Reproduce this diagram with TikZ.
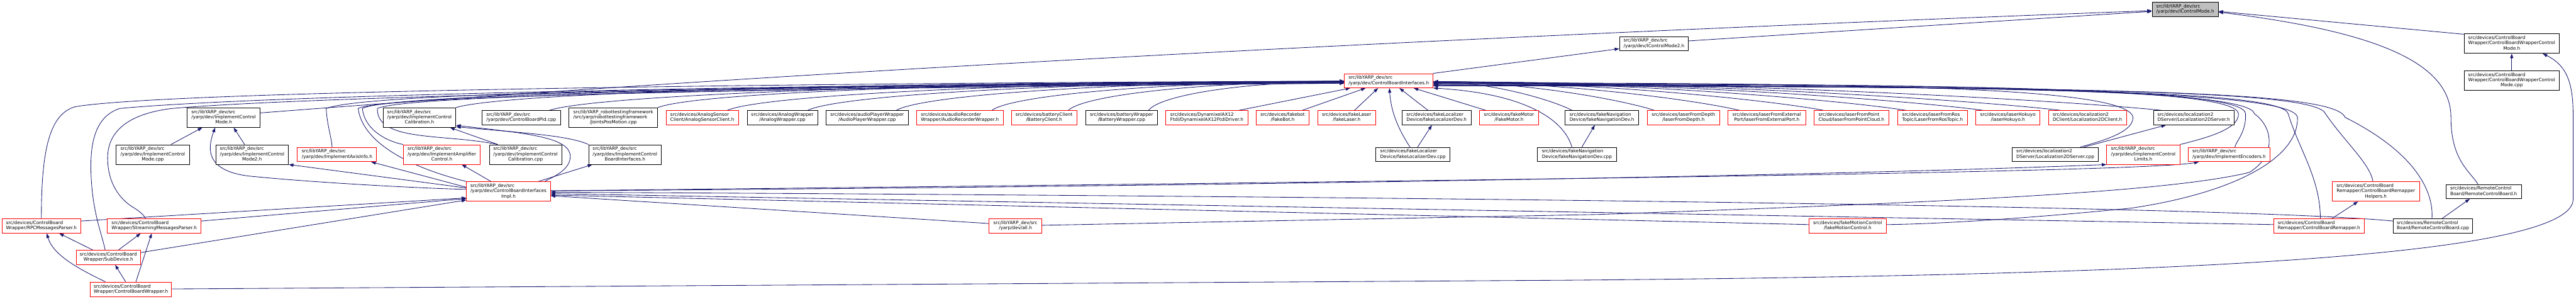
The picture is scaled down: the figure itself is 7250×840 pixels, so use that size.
\documentclass[tikz,border=0pt]{standalone}
\usepackage{fontspec}
\setmainfont{DejaVu Sans}
\usetikzlibrary{arrows.meta}
\definecolor{edgec}{HTML}{191970}
\definecolor{rootfill}{HTML}{BFBFBF}
\newcommand\nfont{\fontsize{12.85}{14.7}\selectfont}
\newcommand\nt[1]{\begin{tabular}{@{}l@{}}#1\end{tabular}}
\newcommand\lcx[1]{\multicolumn{1}{@{}c@{}}{#1}}
\pgfdeclarelayer{bg}
\pgfsetlayers{bg,main}
\begin{document}
\begin{tikzpicture}[x=1pt,y=-1pt,
  nd/.style={draw=black, line width=1.4pt, fill=white, inner sep=0pt, font=\nfont},
  rd/.style={nd, draw=red},
  dep/.style={draw=edgec, line width=1.5pt, arrows={Triangle[length=13pt,width=9pt]-}}]
\useasboundingbox (0,0) rectangle (7250,840);
% ---------- nodes ----------
\node[nd,fill=rootfill,minimum width=186pt,minimum height=40pt] (root) at (6150,26) {\nt{src/libYARP\_dev/src\\\lcx{/yarp/dev/IControlMode.h}}};
\node[nd,minimum width=194pt,minimum height=40pt] (icm2) at (4655,123) {\nt{src/libYARP\_dev/src\\\lcx{/yarp/dev/IControlMode2.h}}};
\node[nd,minimum width=268pt,minimum height=55pt] (cbwcmh) at (7069,122.5) {\nt{src/devices/ControlBoard\\Wrapper/ControlBoardWrapperControl\\\lcx{Mode.h}}};
\node[nd,minimum width=268pt,minimum height=55pt] (cbwcmcpp) at (7069,226.5) {\nt{src/devices/ControlBoard\\Wrapper/ControlBoardWrapperControl\\\lcx{Mode.cpp}}};
\node[rd,minimum width=249pt,minimum height=40pt] (cbi) at (3908.5,227) {\nt{src/libYARP\_dev/src\\\lcx{/yarp/dev/ControlBoardInterfaces.h}}};
% row 4
\node[nd,minimum width=205pt,minimum height=55pt] (icmh) at (629.5,330.5) {\nt{src/libYARP\_dev/src\\/yarp/dev/ImplementControl\\\lcx{Mode.h}}};
\node[nd,minimum width=205pt,minimum height=55pt] (icch) at (1180.5,330.5) {\nt{src/libYARP\_dev/src\\/yarp/dev/ImplementControl\\\lcx{Calibration.h}}};
\node[nd,minimum width=220pt,minimum height=40pt] (cbpid) at (1467,331) {\nt{src/libYARP\_dev/src\\\lcx{/yarp/dev/ControlBoardPid.cpp}}};
\node[nd,minimum width=250pt,minimum height=55pt] (jpm) at (1726,330.5) {\nt{src/libYARP\_robottestingframework\\/src/yarp/robottestingframework\\\lcx{/JointsPosMotion.cpp}}};
\node[rd,minimum width=203pt,minimum height=40pt] (asc) at (1976.5,331) {\nt{src/devices/AnalogSensor\\\lcx{Client/AnalogSensorClient.h}}};
\node[nd,minimum width=198pt,minimum height=40pt] (aw) at (2202,331) {\nt{src/devices/AnalogWrapper\\\lcx{/AnalogWrapper.cpp}}};
\node[nd,minimum width=231pt,minimum height=40pt] (apw) at (2440.5,331) {\nt{src/devices/audioPlayerWrapper\\\lcx{/AudioPlayerWrapper.cpp}}};
\node[rd,minimum width=243pt,minimum height=40pt] (arw) at (2701.5,331) {\nt{src/devices/audioRecorder\\\lcx{Wrapper/AudioRecorderWrapper.h}}};
\node[rd,minimum width=185pt,minimum height=40pt] (bc) at (2938.5,331) {\nt{src/devices/batteryClient\\\lcx{/BatteryClient.h}}};
\node[nd,minimum width=201pt,minimum height=40pt] (bw) at (3156.5,331) {\nt{src/devices/batteryWrapper\\\lcx{/BatteryWrapper.cpp}}};
\node[rd,minimum width=231pt,minimum height=40pt] (dyn) at (3396.5,331) {\nt{src/devices/DynamixelAX12\\\lcx{Ftdi/DynamixelAX12FtdiDriver.h}}};
\node[rd,minimum width=148pt,minimum height=40pt] (fb) at (3610,331) {\nt{src/devices/fakebot\\\lcx{/FakeBot.h}}};
\node[rd,minimum width=162pt,minimum height=40pt] (fl) at (3790,331) {\nt{src/devices/fakeLaser\\\lcx{/fakeLaser.h}}};
\node[nd,minimum width=194pt,minimum height=40pt] (flh) at (4043,331) {\nt{src/devices/fakeLocalizer\\\lcx{Device/fakeLocalizerDev.h}}};
\node[rd,minimum width=166pt,minimum height=40pt] (fm) at (4247,331) {\nt{src/devices/fakeMotor\\\lcx{/FakeMotor.h}}};
\node[nd,minimum width=207pt,minimum height=40pt] (fnh) at (4508.5,331) {\nt{src/devices/fakeNavigation\\\lcx{Device/fakeNavigationDev.h}}};
\node[rd,minimum width=202pt,minimum height=40pt] (lfd) at (4738,331) {\nt{src/devices/laserFromDepth\\\lcx{/laserFromDepth.h}}};
\node[rd,minimum width=219pt,minimum height=40pt] (lfe) at (4972.5,331) {\nt{src/devices/laserFromExternal\\\lcx{Port/laserFromExternalPort.h}}};
\node[rd,minimum width=211pt,minimum height=40pt] (lfp) at (5210.5,331) {\nt{src/devices/laserFromPoint\\\lcx{Cloud/laserFromPointCloud.h}}};
\node[rd,minimum width=196pt,minimum height=40pt] (lfr) at (5439,331) {\nt{src/devices/laserFromRos\\\lcx{Topic/LaserFromRosTopic.h}}};
\node[rd,minimum width=180pt,minimum height=40pt] (lh) at (5651,331) {\nt{src/devices/laserHokuyo\\\lcx{/laserHokuyo.h}}};
\node[rd,minimum width=220pt,minimum height=40pt] (l2c) at (5875,331) {\nt{src/devices/localization2\\\lcx{DClient/Localization2DClient.h}}};
\node[nd,minimum width=226pt,minimum height=40pt] (l2sh) at (6174,331) {\nt{src/devices/localization2\\\lcx{DServer/Localization2DServer.h}}};
% row 5
\node[nd,minimum width=206pt,minimum height=55pt] (icmcpp) at (430,434.5) {\nt{src/libYARP\_dev/src\\/yarp/dev/ImplementControl\\\lcx{Mode.cpp}}};
\node[nd,minimum width=205pt,minimum height=55pt] (icm2h) at (709.5,434.5) {\nt{src/libYARP\_dev/src\\/yarp/dev/ImplementControl\\\lcx{Mode2.h}}};
\node[rd,minimum width=223pt,minimum height=40pt] (iai) at (948.5,434.5) {\nt{src/libYARP\_dev/src\\\lcx{/yarp/dev/ImplementAxisInfo.h}}};
\node[rd,minimum width=217pt,minimum height=55pt] (iac) at (1243.5,434.5) {\nt{src/libYARP\_dev/src\\/yarp/dev/ImplementAmplifier\\\lcx{Control.h}}};
\node[nd,minimum width=204pt,minimum height=55pt] (iccpp) at (1479,434.5) {\nt{src/libYARP\_dev/src\\/yarp/dev/ImplementControl\\\lcx{Calibration.cpp}}};
\node[nd,minimum width=204pt,minimum height=55pt] (icbi) at (1759,434.5) {\nt{src/libYARP\_dev/src\\/yarp/dev/ImplementControl\\\lcx{BoardInterfaces.h}}};
\node[nd,minimum width=209pt,minimum height=40pt] (flcpp) at (3976.5,434.5) {\nt{src/devices/fakeLocalizer\\\lcx{Device/fakeLocalizerDev.cpp}}};
\node[nd,minimum width=222pt,minimum height=40pt] (fncpp) at (4438,434.5) {\nt{src/devices/fakeNavigation\\\lcx{Device/fakeNavigationDev.cpp}}};
\node[nd,minimum width=243pt,minimum height=40pt] (l2scpp) at (5784.5,434.5) {\nt{src/devices/localization2\\\lcx{DServer/Localization2DServer.cpp}}};
\node[rd,minimum width=206pt,minimum height=55pt] (icl) at (6032,434.5) {\nt{src/libYARP\_dev/src\\/yarp/dev/ImplementControl\\\lcx{Limits.h}}};
\node[rd,minimum width=229pt,minimum height=40pt] (ienc) at (6273.5,434.5) {\nt{src/libYARP\_dev/src\\\lcx{/yarp/dev/ImplementEncoders.h}}};
% row 6
\node[rd,minimum width=236pt,minimum height=55pt] (cbii) at (1431,538.5) {\nt{src/libYARP\_dev/src\\/yarp/dev/ControlBoardInterfaces\\\lcx{Impl.h}}};
\node[rd,minimum width=245pt,minimum height=55pt] (cbrh) at (6686.5,538.5) {\nt{src/devices/ControlBoard\\Remapper/ControlBoardRemapper\\\lcx{Helpers.h}}};
\node[nd,minimum width=212pt,minimum height=40pt] (rcbh) at (6990,538.5) {\nt{src/devices/RemoteControl\\\lcx{Board/RemoteControlBoard.h}}};
% row 7
\node[rd,minimum width=221pt,minimum height=40pt] (rpc) at (116.5,635.5) {\nt{src/devices/ControlBoard\\\lcx{Wrapper/RPCMessagesParser.h}}};
\node[rd,minimum width=264pt,minimum height=40pt] (smp) at (434,635.5) {\nt{src/devices/ControlBoard\\\lcx{Wrapper/StreamingMessagesParser.h}}};
\node[rd,minimum width=148pt,minimum height=40pt] (all) at (2858,635.5) {\nt{src/libYARP\_dev/src\\\lcx{/yarp/dev/all.h}}};
\node[rd,minimum width=218pt,minimum height=40pt] (fmc) at (5200,635.5) {\nt{src/devices/fakeMotionControl\\\lcx{/fakeMotionControl.h}}};
\node[rd,minimum width=255pt,minimum height=40pt] (cbr) at (6526.5,635.5) {\nt{src/devices/ControlBoard\\\lcx{Remapper/ControlBoardRemapper.h}}};
\node[nd,minimum width=223pt,minimum height=40pt] (rcbcpp) at (6847.5,635.5) {\nt{src/devices/RemoteControl\\\lcx{Board/RemoteControlBoard.cpp}}};
% rows 8-9
\node[rd,minimum width=182pt,minimum height=40pt] (sub) at (305,724) {\nt{src/devices/ControlBoard\\\lcx{Wrapper/SubDevice.h}}};
\node[rd,minimum width=229pt,minimum height=41pt] (cbw) at (368.5,813.5) {\nt{src/devices/ControlBoard\\\lcx{Wrapper/ControlBoardWrapper.h}}};
% ---------- edges ----------
\begin{pgfonlayer}{bg}
\fill[white] (0,0) rectangle (7250,840);
% into root
\draw[dep] ([yshift=-6pt]root.west) -- ([yshift=8pt]icm2.east);
\draw[dep] ([yshift=-4pt]root.west) .. controls (4500,88) and (2500,180) .. ([yshift=13pt]icmh.east);
\draw[dep] ([yshift=-6pt]root.east) -- ([yshift=-2pt]cbwcmh.north west);
\draw[dep] ([yshift=-8pt]root.east) .. controls (6700,90) and (6898,180) .. (6898,330) .. controls (6898,450) and (6950,480) .. ([xshift=-16pt]rcbh.north);
\draw[dep] (cbwcmh.south) -- (cbwcmcpp.north);
\draw[dep] ([xshift=87pt]cbwcmh.south) .. controls (7238,190) and (7242,260) .. (7242,340) -- (7242,560) .. controls (7242,730) and (6000,775) .. (4400,788) -- ([yshift=1pt]cbw.east);
\draw[dep] ([yshift=-14pt]icm2.west) -- (cbi.north east);
% west side of cbi, row 4
\draw[dep] ([yshift=-3pt]cbi.west) .. controls (2534,230) and (1433,258) .. (icch.north east);
\draw[dep] ([yshift=-3pt]cbi.west) .. controls (2665,230) and (1680,266) .. ([xshift=79pt]cbpid.north);
\draw[dep] ([yshift=-3pt]cbi.west) .. controls (2818,230) and (1967,258) .. (jpm.north east);
\draw[dep] ([yshift=-3pt]cbi.west) .. controls (2915,230) and (2150,266) .. ([xshift=70pt]asc.north);
\draw[dep] ([yshift=-3pt]cbi.west) .. controls (3029,230) and (2364,266) .. ([xshift=71pt]aw.north);
\draw[dep] ([yshift=-3pt]cbi.west) .. controls (3154,230) and (2599,266) .. ([xshift=82pt]apw.north);
\draw[dep] ([yshift=-3pt]cbi.west) .. controls (3288,230) and (2851,266) .. ([xshift=90pt]arw.north);
\draw[dep] ([yshift=-3pt]cbi.west) .. controls (3395,230) and (3053,266) .. ([xshift=68pt]bc.north);
\draw[dep] ([yshift=-3pt]cbi.west) .. controls (3509,230) and (3266,266) .. ([xshift=76pt]bw.north);
% west side, long
\draw[dep] ([yshift=-1pt]cbi.west) .. controls (2500,232) and (500,252) .. (212,300) .. controls (140,320) and (116,420) .. (rpc.north);
\draw[dep] ([yshift=-1pt]cbi.west) .. controls (2500,236) and (800,262) .. (337,305) .. controls (260,330) and (250,420) .. (258,520) .. controls (265,610) and (290,670) .. ([xshift=-9pt]sub.north);
\draw[dep] ([yshift=-1pt]cbi.west) .. controls (2500,238) and (900,268) .. (484,305) .. controls (360,320) and (300,370) .. (303,450) .. controls (305,520) and (340,560) .. (370,580) .. controls (395,595) and (405,605) .. ([xshift=-24pt]smp.north);
\draw[dep] ([yshift=-5pt]cbi.west) .. controls (2500,240) and (1050,252) .. (918,305) .. controls (920,350) and (934,390) .. ([xshift=-14pt]iai.north);
\draw[dep] ([yshift=-5pt]cbi.west) .. controls (2500,242) and (1100,258) .. (1020,305) .. controls (1025,360) and (1080,395) .. (iac.north west);
\draw[dep] ([yshift=-7pt]cbi.west) .. controls (2500,244) and (1150,262) .. (1062,305) .. controls (1060,400) and (1250,375) .. ([xshift=-78pt]iccpp.north);
\draw[dep] ([yshift=-7pt]cbi.west) .. controls (2500,246) and (1080,264) .. (1008,305) .. controls (1020,400) and (1150,470) .. (cbii.north west);
% bottom of cbi
\draw[dep] ([xshift=-108pt]cbi.south) -- ([xshift=90pt]dyn.north);
\draw[dep] ([xshift=-65pt]cbi.south) -- ([xshift=55pt]fb.north);
\draw[dep] ([xshift=-30pt]cbi.south) -- ([xshift=22pt]fl.north);
\draw[dep] ([xshift=2pt]cbi.south) .. controls (3915,320) and (3940,370) .. ([xshift=-8pt]flcpp.north);
\draw[dep] ([xshift=30pt]cbi.south) -- ([xshift=-24pt]flh.north);
\draw[dep] ([xshift=70pt]cbi.south) -- ([xshift=-65pt]fm.north);
\draw[dep] ([xshift=-13pt]flh.south) -- ([xshift=13pt]flcpp.north);
\draw[dep] ([xshift=-20pt]fnh.south) -- ([xshift=14pt]fncpp.north);
\draw[dep] (cbi.south east) .. controls (4280,262) and (4400,330) .. ([xshift=-14pt]fncpp.north);
% east side of cbi, row 4
\draw[dep] ([yshift=-3pt]cbi.east) .. controls (4209,232) and (4377,285) .. ([xshift=-84pt]fnh.north);
\draw[dep] ([yshift=-3pt]cbi.east) .. controls (4313,232) and (4581,285) .. ([xshift=-82pt]lfd.north);
\draw[dep] ([yshift=-3pt]cbi.east) .. controls (4421,232) and (4792,285) .. ([xshift=-77pt]lfe.north);
\draw[dep] ([yshift=-3pt]cbi.east) .. controls (4528,232) and (5001,285) .. ([xshift=-78pt]lfp.north);
\draw[dep] ([yshift=-3pt]cbi.east) .. controls (4632,232) and (5205,285) .. ([xshift=-74pt]lfr.north);
\draw[dep] ([yshift=-3pt]cbi.east) .. controls (4730,232) and (5396,285) .. ([xshift=-69pt]lh.north);
\draw[dep] ([yshift=-3pt]cbi.east) .. controls (4828,232) and (5588,285) .. ([xshift=-75pt]l2c.north);
\draw[dep] ([yshift=-3pt]cbi.east) .. controls (4956,232) and (5838,285) .. ([xshift=-90pt]l2sh.north);
% east side, long
\draw[dep] ([yshift=-6pt]cbi.east) .. controls (5200,234) and (5990,240) .. (6003,330) .. controls (6005,375) and (5900,400) .. ([xshift=70pt]l2scpp.north);
\draw[dep] ([xshift=-78pt]l2sh.south) -- ([xshift=80pt]l2scpp.north);
\draw[dep] ([yshift=-8pt]cbi.east) .. controls (5500,236) and (6295,245) .. (6300,320) .. controls (6302,365) and (6200,390) .. (icl.north east);
\draw[dep] ([yshift=-8pt]cbi.east) .. controls (5500,238) and (6318,245) .. (6320,320) .. controls (6322,370) and (6295,395) .. ([xshift=16pt]ienc.north);
\draw[dep] ([yshift=-10pt]cbi.east) .. controls (5600,240) and (6330,252) .. (6345,320) .. controls (6400,360) and (6405,440) .. (6330,485) .. controls (6100,540) and (5500,568) .. (4500,603) -- ([yshift=2pt]all.east);
\draw[dep] ([yshift=-12pt]cbi.east) .. controls (5600,242) and (6455,252) .. (6466,330) .. controls (6470,440) and (6300,540) .. (6000,585) .. controls (5700,615) and (5450,630) .. ([yshift=4pt]fmc.east);
\draw[dep] ([yshift=-12pt]cbi.east) .. controls (5700,244) and (6420,252) .. (6440,320) .. controls (6470,420) and (6530,500) .. ([xshift=4pt]cbr.north);
\draw[dep] ([yshift=-14pt]cbi.east) .. controls (5800,244) and (6520,252) .. (6545,320) .. controls (6600,400) and (6670,460) .. ([xshift=-8pt]cbrh.north);
\draw[dep] ([yshift=-14pt]cbi.east) .. controls (5900,244) and (6570,252) .. (6600,330) .. controls (6800,430) and (6850,540) .. ([xshift=-3pt]rcbcpp.north);
\draw[dep] ([xshift=-50pt]cbrh.south) -- ([xshift=36pt]cbr.north);
\draw[dep] ([xshift=-39pt]rcbh.south) -- ([xshift=25pt]rcbcpp.north);
% ControlBoardInterfacesImpl.h
\draw[dep] (icl.south west) .. controls (5000,500) and (3000,528) .. ([yshift=2pt]cbii.east);
\draw[dep] ([xshift=-85pt]ienc.south) .. controls (6050,482) and (4500,505) .. ([yshift=2pt]cbii.east);
\draw[dep] ([yshift=-2pt]cbii.east) .. controls (4000,552) and (6300,580) .. ([yshift=14pt]rcbcpp.west);
\draw[dep] ([yshift=-6pt]cbii.east) -- ([yshift=4pt]cbr.west);
\draw[dep] ([yshift=-10pt]cbii.east) -- ([yshift=4pt]fmc.west);
\draw[dep] ([yshift=-12pt]cbii.east) -- ([yshift=7pt]all.west);
\draw[dep] ([yshift=-18pt]cbii.west) -- ([yshift=14pt]rpc.east);
\draw[dep] ([yshift=-20pt]cbii.west) -- ([yshift=14pt]smp.east);
\draw[dep] ([yshift=-24pt]cbii.west) -- ([yshift=14pt]sub.east);
\draw[dep] ([xshift=56pt]iac.south) -- ([xshift=-49pt]cbii.north);
\draw[dep] ([xshift=96pt]iai.south) -- ([yshift=12pt]cbii.west);
\draw[dep] (icm2h.south east) -- ([yshift=10pt]cbii.west);
\draw[dep] ([xshift=-24pt]icmh.south) .. controls (583,420) and (580,480) .. (700,495) .. controls (900,515) and (1200,530) .. ([yshift=6pt]cbii.west);
\draw[dep] ([xshift=-92pt]icbi.south) -- ([xshift=84pt]cbii.north);
\draw[dep] ([yshift=-22pt]icch.east) .. controls (1480,375) and (1605,385) .. (1605,440) .. controls (1605,480) and (1550,500) .. ([xshift=102pt]cbii.north);
\draw[dep] ([yshift=-26pt]icch.east) .. controls (1450,372) and (1600,380) .. (icbi.north west);
\draw[dep] ([xshift=86pt]icch.south) -- ([xshift=-78pt]iccpp.north);
\draw[dep] ([xshift=-60pt]icmh.south) -- ([xshift=51pt]icmcpp.north);
\draw[dep] ([xshift=28pt]icmh.south) -- ([xshift=-21pt]icm2h.north);
% ControlBoardWrapper group
\draw[dep] ([xshift=50pt]rpc.south) -- ([xshift=-43pt]sub.north);
\draw[dep] ([xshift=15pt]rpc.south) .. controls (150,720) and (230,760) .. ([xshift=-72pt]cbw.north);
\draw[dep] ([xshift=-38pt]smp.south) -- ([xshift=28pt]sub.north);
\draw[dep] ([xshift=-7pt]smp.south) -- ([xshift=14pt]cbw.north);
\draw[dep] ([xshift=19pt]sub.south) -- ([xshift=-15pt]cbw.north);
\end{pgfonlayer}
\end{tikzpicture}
\end{document}
